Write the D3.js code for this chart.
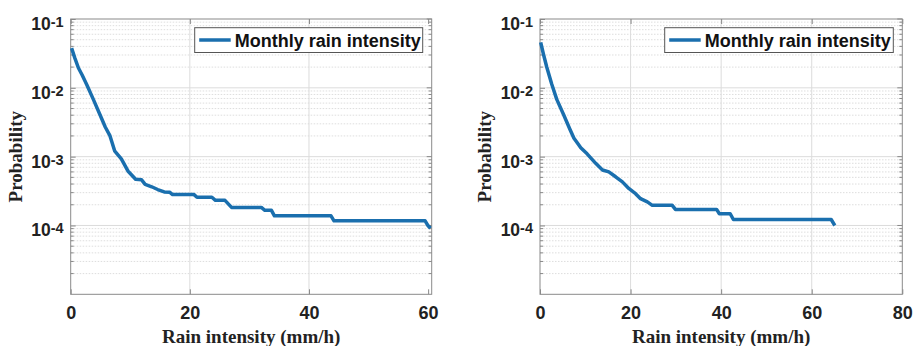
<!DOCTYPE html>
<html lang="en">
<head>
  <meta charset="UTF-8">
  <title>Monthly rain intensity</title>
  <style>
    body { margin: 0; background: #fff; }
    .tick-label { font-family: "Liberation Sans", Arial, sans-serif; font-weight: bold; fill: #222; }
    .axis-title { font-family: "Liberation Serif", "Times New Roman", serif; font-weight: bold; font-size: 19px; fill: #222; }
    .legend-text { font-family: "Liberation Sans", Arial, sans-serif; font-weight: bold; font-size: 18px; fill: #111; }
  </style>
</head>
<body>
  <script src="https://d3js.org/d3.v7.min.js"></script>
  <script>
    // values
    const leftX = [0.15, 0.7, 1.3, 1.9, 2.7, 3.8, 4.9, 5.8, 6.6, 7.4, 8.5, 9.6, 10.9, 11.9, 12.5, 13.6, 14.6, 15.7, 16.6, 17.1,
      20.7, 21.2, 23.7, 24.3, 25.9, 27.0, 32.0, 32.6, 33.7, 34.2, 43.7, 44.2, 59.5, 60.0, 60.4];
    const leftP = [0.0377, 0.027, 0.0194, 0.0155, 0.0111, 0.0068, 0.0041, 0.0027, 0.002, 0.0012, 9.3e-4, 6.2e-4, 4.7e-4, 4.6e-4,
      3.95e-4, 3.65e-4, 3.33e-4, 3.07e-4, 3.04e-4, 2.81e-4, 2.81e-4, 2.57e-4, 2.57e-4, 2.32e-4, 2.32e-4, 1.83e-4, 1.83e-4,
      1.66e-4, 1.66e-4, 1.38e-4, 1.38e-4, 1.17e-4, 1.17e-4, 9.9e-5, 9.1e-5];

    const rightX = [0.15, 0.75, 1.5, 2.6, 3.7, 5.2, 6.6, 7.5, 8.5, 9.0, 10.4, 12.3, 13.8, 15.2, 16.7, 18.2, 19.6, 21.1, 22.2,
      23.7, 24.8, 29.2, 29.9, 39.0, 39.6, 42.0, 42.7, 64.3, 65.1];
    const rightP = [0.0457, 0.031, 0.0199, 0.0113, 0.0068, 0.0041, 0.0025, 0.00185, 0.0015, 0.00135, 0.0011, 8.0e-4, 6.4e-4,
      6.0e-4, 5.1e-4, 4.3e-4, 3.45e-4, 2.9e-4, 2.45e-4, 2.2e-4, 1.96e-4, 1.96e-4, 1.71e-4, 1.71e-4, 1.48e-4, 1.48e-4,
      1.22e-4, 1.22e-4, 1.0e-4];

    const xTicksLeft = [0, 20, 40, 60];
    const xTicksRight = [0, 20, 40, 60, 80];
    const yTicks = [1e-1, 1e-2, 1e-3, 1e-4];
    const yExponents = ["-1", "-2", "-3", "-4"];
    const seriesName = "Monthly rain intensity";

    const w = 915, h = 346;
    const plotTop = 19, plotBottom = 294.3;
    const lineColor = "#1a6fae";

    const svg = d3.select("body").append("svg")
      .attr("width", w)
      .attr("height", h);

    function drawPanel(xs, ps, xTicks, xMax, left, right, legX0, legX1, yLabelX) {
      const g = svg.append("g");
      const xScale = d3.scaleLinear().domain([0, xMax]).range([left, right]);
      const yScale = d3.scaleLog().domain([1e-5, 1e-1]).range([plotBottom, plotTop]);

      // minor grid (dotted) for the log axis
      const minors = [];
      for (let d = 1e-5; d < 0.09; d *= 10) {
        for (let k = 2; k <= 9; k++) minors.push(d * k);
      }
      g.selectAll("line.minor-grid")
        .data(minors)
        .enter()
        .append("line")
        .attr("class", "minor-grid")
        .attr("x1", left).attr("x2", right)
        .attr("y1", (d) => yScale(d)).attr("y2", (d) => yScale(d))
        .attr("stroke", "#d6d6d6")
        .attr("stroke-width", 0.8)
        .attr("stroke-dasharray", "1.5,1.5");

      // major grid
      g.selectAll("line.hgrid")
        .data([1e-2, 1e-3, 1e-4])
        .enter()
        .append("line")
        .attr("x1", left).attr("x2", right)
        .attr("y1", (d) => yScale(d)).attr("y2", (d) => yScale(d))
        .attr("stroke", "#dcdcdc")
        .attr("stroke-width", 1);
      g.selectAll("line.vgrid")
        .data(xTicks.filter((t) => t > 0 && xScale(t) < right - 4))
        .enter()
        .append("line")
        .attr("x1", (d) => xScale(d)).attr("x2", (d) => xScale(d))
        .attr("y1", plotTop).attr("y2", plotBottom)
        .attr("stroke", "#dcdcdc")
        .attr("stroke-width", 1);

      // x axis (ticks inward)
      const xAxis = d3.axisBottom(xScale)
        .tickValues(xTicks)
        .tickSizeInner(-5)
        .tickSizeOuter(0)
        .tickPadding(0);
      const gx = g.append("g")
        .attr("transform", "translate(0," + plotBottom + ")")
        .call(xAxis);
      gx.select(".domain").remove();
      gx.selectAll(".tick line").attr("stroke", "#888");
      gx.selectAll(".tick text")
        .attr("class", "tick-label")
        .attr("y", 24.5)
        .attr("dy", 0)
        .style("font-size", "18px");

      // top ticks
      g.append("g")
        .attr("transform", "translate(0," + plotTop + ")")
        .call(d3.axisTop(xScale).tickValues(xTicks).tickSizeInner(-5).tickSizeOuter(0).tickFormat(() => ""))
        .call((s) => s.select(".domain").remove())
        .selectAll(".tick line").attr("stroke", "#888");

      // y axis with superscript labels
      const yAxis = d3.axisLeft(yScale)
        .tickValues(yTicks)
        .tickSizeInner(-5)
        .tickSizeOuter(0)
        .tickPadding(7)
        .tickFormat(() => "");
      const gy = g.append("g")
        .attr("transform", "translate(" + left + ",0)")
        .call(yAxis);
      gy.select(".domain").remove();
      gy.selectAll(".tick line").attr("stroke", "#888");
      gy.selectAll(".tick text")
        .attr("class", "tick-label")
        .attr("dy", 0)
        .attr("y", 10.5)
        .each(function (d, i) {
          const t = d3.select(this);
          t.append("tspan").style("font-size", "17.5px").text("10");
          t.append("tspan").style("font-size", "14.5px").attr("dy", -3).text(yExponents[i]);
        });

      // minor y ticks on both sides
      const minorTicks = minors.filter((d) => d > 1e-5);
      g.selectAll("line.minor-l")
        .data(minorTicks)
        .enter()
        .append("line")
        .attr("x1", left).attr("x2", left + 3)
        .attr("y1", (d) => yScale(d)).attr("y2", (d) => yScale(d))
        .attr("stroke", "#888");
      g.selectAll("line.minor-r")
        .data(minorTicks)
        .enter()
        .append("line")
        .attr("x1", right).attr("x2", right - 3)
        .attr("y1", (d) => yScale(d)).attr("y2", (d) => yScale(d))
        .attr("stroke", "#888");
      g.selectAll("line.major-r")
        .data(yTicks)
        .enter()
        .append("line")
        .attr("x1", right).attr("x2", right - 5)
        .attr("y1", (d) => yScale(d)).attr("y2", (d) => yScale(d))
        .attr("stroke", "#888");

      // box
      g.append("rect")
        .attr("x", left).attr("y", plotTop)
        .attr("width", right - left).attr("height", plotBottom - plotTop)
        .attr("fill", "none")
        .attr("stroke", "#8a8a8a")
        .attr("stroke-width", 1);

      // curve
      const pts = xs.map((x, i) => [x, ps[i]]);
      const line = d3.line()
        .x((d) => xScale(d[0]))
        .y((d) => yScale(d[1]));
      g.append("path")
        .datum(pts)
        .attr("d", line)
        .attr("fill", "none")
        .attr("stroke", lineColor)
        .attr("stroke-width", 3.5)
        .attr("stroke-linejoin", "round");

      // axis titles
      g.append("text")
        .attr("class", "axis-title")
        .attr("text-anchor", "middle")
        .attr("x", (left + right) / 2)
        .attr("y", 343)
        .text("Rain intensity (mm/h)");
      g.append("text")
        .attr("class", "axis-title")
        .attr("text-anchor", "middle")
        .attr("transform", "translate(" + yLabelX + "," + ((plotTop + plotBottom) / 2) + ") rotate(-90)")
        .text("Probability");

      // legend
      g.append("rect")
        .attr("x", legX0).attr("y", 27.7)
        .attr("width", legX1 - legX0).attr("height", 24.8)
        .attr("fill", "#fff")
        .attr("stroke", "#555")
        .attr("stroke-width", 1);
      g.append("line")
        .attr("x1", legX0 + 4.5).attr("x2", legX0 + 36)
        .attr("y1", 40).attr("y2", 40)
        .attr("stroke", lineColor)
        .attr("stroke-width", 3.5);
      g.append("text")
        .attr("class", "legend-text")
        .attr("x", legX0 + 40)
        .attr("y", 46.5)
        .text(seriesName);
    }

    drawPanel(leftX, leftP, xTicksLeft, 60.6, 70.7, 431.7, 194.7, 422.7, 22);
    drawPanel(rightX, rightP, xTicksRight, 80, 540, 902.3, 664.7, 893.3, 491);
  </script>
</body>
</html>
